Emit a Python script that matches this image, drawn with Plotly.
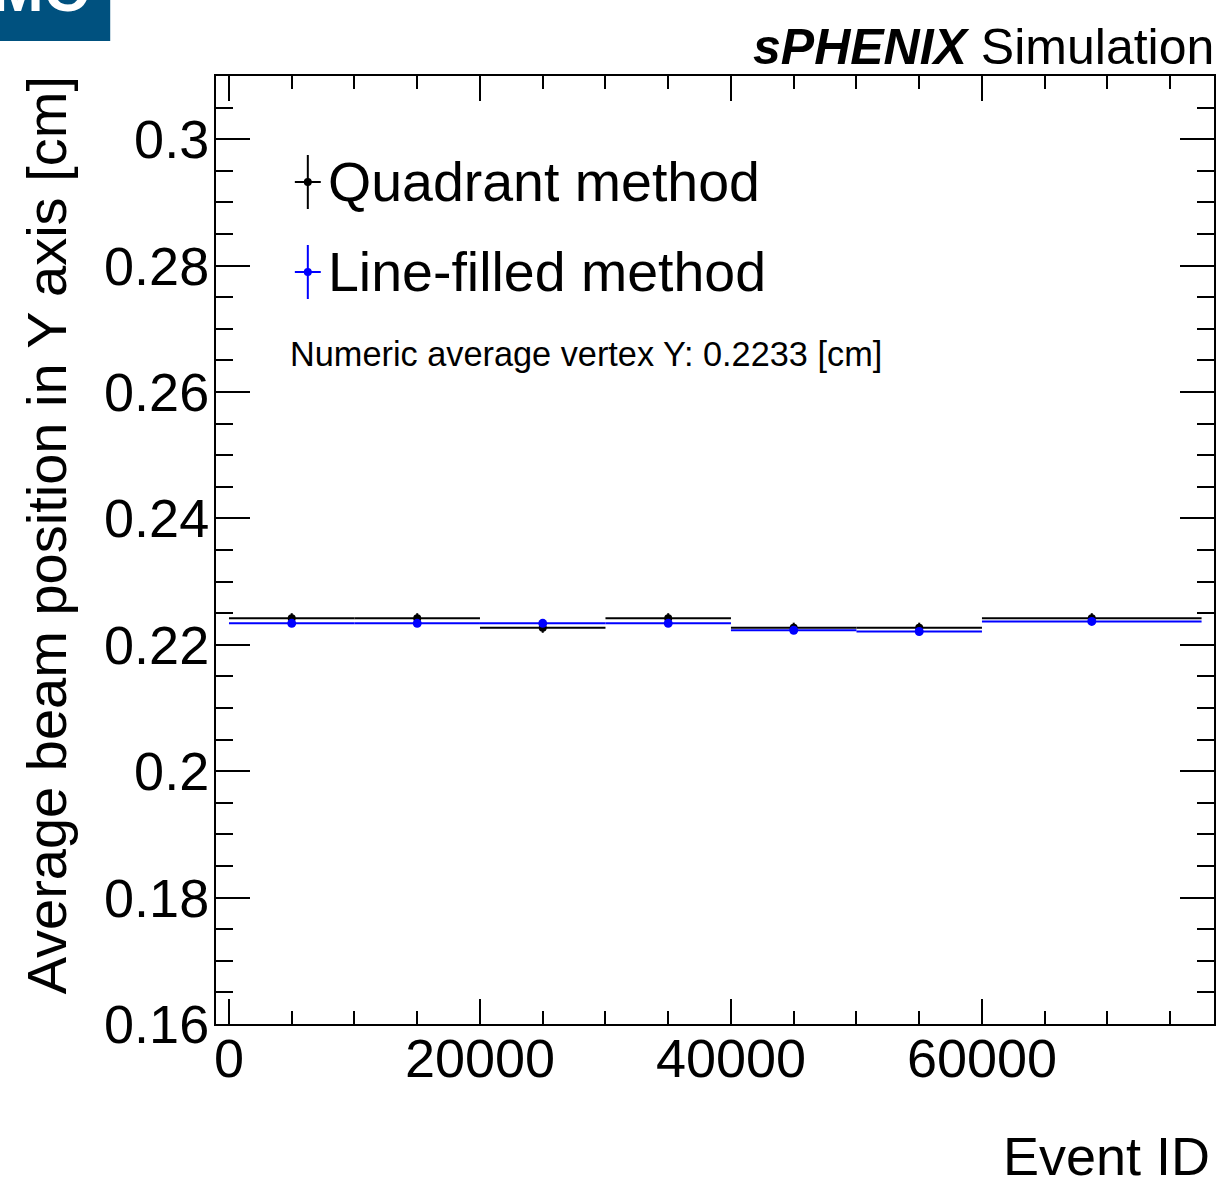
import plotly.graph_objects as go

# ---------------- data ----------------
bin_edges = [0, 10000, 20000, 30000, 40000, 50000, 60000, 77500]
quadrant_y = [0.2242, 0.2242, 0.2227, 0.2242, 0.2227, 0.2227, 0.2242]
quadrant_err = [0.0008, 0.0008, 0.0008, 0.0008, 0.0008, 0.0008, 0.0008]
linefilled_y = [0.2234, 0.2234, 0.2234, 0.2234, 0.2223, 0.2221, 0.2237]
linefilled_err = [0.0005, 0.0005, 0.0005, 0.0005, 0.0005, 0.0005, 0.0005]

x_tickvals = [0, 20000, 40000, 60000]
x_ticktext = ["0", "20000", "40000", "60000"]
y_tickvals = [0.16, 0.18, 0.20, 0.22, 0.24, 0.26, 0.28, 0.30]
y_ticktext = ["0.16", "0.18", "0.2", "0.22", "0.24", "0.26", "0.28", "0.3"]

legend_labels = ["Quadrant method", "Line-filled method"]
average_text = "Numeric average vertex Y: 0.2233 [cm]"

centers = [(a + b) / 2 for a, b in zip(bin_edges[:-1], bin_edges[1:])]
halfw = [(b - a) / 2 for a, b in zip(bin_edges[:-1], bin_edges[1:])]

FONT = "Liberation Sans, Arial, Helvetica, sans-serif"
W, H = 1220, 1188
L, R, T, B = 216, 1216, 76, 1024


def px(x):
    return (x - L) / (R - L)


def py(y):
    return (B - y) / (B - T)


fig = go.Figure()

fig.add_trace(go.Scatter(
    x=centers, y=quadrant_y, mode="markers", name=legend_labels[0],
    marker=dict(color="black", size=8, symbol="circle"),
    error_x=dict(type="data", array=halfw, color="black", thickness=2.2, width=0),
    error_y=dict(type="data", array=quadrant_err, color="black", thickness=2, width=0),
    showlegend=False,
))
fig.add_trace(go.Scatter(
    x=centers, y=linefilled_y, mode="markers", name=legend_labels[1],
    marker=dict(color="#0000ff", size=9, symbol="circle"),
    error_x=dict(type="data", array=halfw, color="#0000ff", thickness=2, width=0),
    error_y=dict(type="data", array=linefilled_err, color="#0000ff", thickness=2, width=0),
    showlegend=False,
))

axis_common = dict(
    showline=True, linecolor="black", linewidth=2, mirror="allticks",
    ticks="inside", tickcolor="black", tickwidth=2,
    showgrid=False, zeroline=False,
    tickfont=dict(family=FONT, size=54, color="black"),
)

fig.update_xaxes(
    range=[-1034, 78490], tickmode="array", tickvals=x_tickvals, ticktext=x_ticktext,
    ticklen=25, ticklabelstandoff=-14,
    minor=dict(tickmode="linear", tick0=0, dtick=5000, ticklen=13, ticks="inside",
               tickcolor="black", tickwidth=2),
    **axis_common,
)
fig.update_yaxes(
    range=[0.16, 0.31], tickmode="array", tickvals=y_tickvals, ticktext=y_ticktext,
    ticklen=34, ticklabelstandoff=-6,
    minor=dict(tickmode="linear", tick0=0.16, dtick=0.005, ticklen=17, ticks="inside",
               tickcolor="black", tickwidth=2),
    **axis_common,
)

shapes = []
annotations = []

# Legend (manual, ROOT style with error bar crosses)
leg_rows = [(182, 155, 209, "black"), (272, 245, 299, "#0000ff")]
for (yc, y0, y1, col), label in zip(leg_rows, legend_labels):
    shapes.append(dict(type="line", xref="paper", yref="paper",
                       x0=px(308), x1=px(308), y0=py(y0), y1=py(y1),
                       line=dict(color=col, width=2)))
    shapes.append(dict(type="line", xref="paper", yref="paper",
                       x0=px(295), x1=px(321), y0=py(yc), y1=py(yc),
                       line=dict(color=col, width=2)))
    shapes.append(dict(type="circle", xref="paper", yref="paper",
                       x0=px(304), x1=px(312), y0=py(yc + 4), y1=py(yc - 4),
                       fillcolor=col, line=dict(color=col, width=0)))
    annotations.append(dict(text=label, xref="paper", yref="paper",
                            x=px(326), y=py(yc), xanchor="left", yanchor="middle",
                            showarrow=False, font=dict(family=FONT, size=55.5, color="black")))

annotations.append(dict(text=average_text, xref="paper", yref="paper",
                        x=px(288), y=py(354), xanchor="left", yanchor="middle",
                        showarrow=False, font=dict(family=FONT, size=34.3, color="black")))

# sPHENIX label
annotations.append(dict(text="<b><i>sPHENIX</i></b> Simulation", xref="paper", yref="paper",
                        x=px(1218), y=py(47), xanchor="right", yanchor="middle",
                        showarrow=False, font=dict(family=FONT, size=50, color="black")))

# axis titles
annotations.append(dict(text="Average beam position in Y axis [cm]", xref="paper", yref="paper",
                        x=px(47), y=py(74), xanchor="center", yanchor="top", textangle=-90,
                        showarrow=False, font=dict(family=FONT, size=56, color="black")))
annotations.append(dict(text="Event ID", xref="paper", yref="paper",
                        x=px(1214), y=py(1188), xanchor="right", yanchor="bottom",
                        showarrow=False, font=dict(family=FONT, size=54, color="black")))

# top-left badge (cut off by the page edge, as in the original)
shapes.append(dict(type="rect", xref="paper", yref="paper",
                   x0=px(-5), x1=px(110), y0=py(41), y1=py(-5),
                   fillcolor="#00517f", line=dict(width=0), layer="above"))
annotations.append(dict(text="<b>MC</b>", xref="paper", yref="paper",
                        x=px(40), y=py(26), xanchor="center", yanchor="bottom",
                        showarrow=False, font=dict(family=FONT, size=62, color="white")))

fig.update_layout(
    width=W, height=H,
    margin=dict(l=L, r=W - R, t=T, b=H - B, pad=0),
    paper_bgcolor="white", plot_bgcolor="white",
    shapes=shapes, annotations=annotations,
    font=dict(family=FONT, color="black"),
)

fig.write_html("out.html")
